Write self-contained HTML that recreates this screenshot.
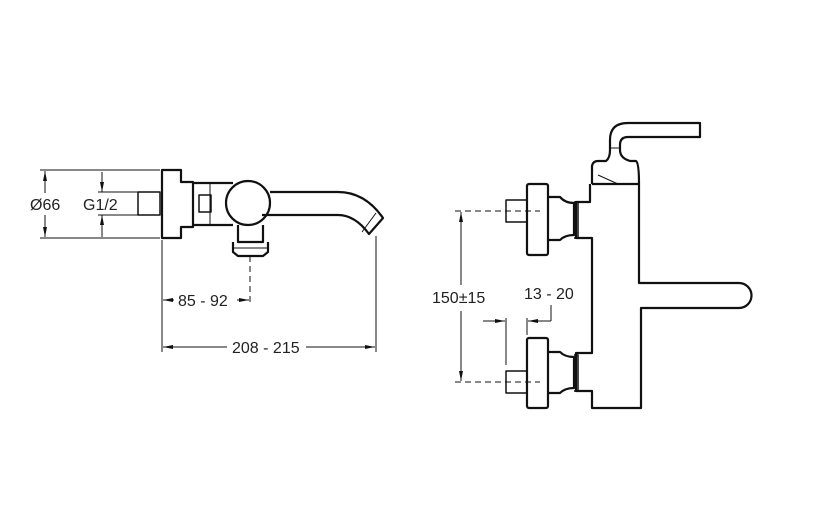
<!DOCTYPE html>
<html><head><meta charset="utf-8"><style>
html,body{margin:0;padding:0;background:#fff;}
svg{display:block;}
text{font-family:"Liberation Sans",sans-serif;font-size:16px;fill:#222;}
</style></head><body>
<svg width="819" height="506" viewBox="0 0 819 506" xmlns="http://www.w3.org/2000/svg">
<defs>
<marker id="a" viewBox="0 0 10 6" refX="10" refY="3" markerWidth="10" markerHeight="6" orient="auto-start-reverse" markerUnits="userSpaceOnUse"><path d="M0,1 L10,3 L0,5 z" fill="#111"/></marker>
</defs>
<g fill="none" stroke="#111">
<g stroke-width="1">
<line x1="40" y1="170" x2="160" y2="170"/>
<line x1="40" y1="238" x2="160" y2="238"/>
<line x1="45" y1="171" x2="45" y2="193" marker-start="url(#a)"/>
<line x1="45" y1="215" x2="45" y2="237" marker-end="url(#a)"/>
<line x1="98" y1="192" x2="140" y2="192"/>
<line x1="98" y1="215" x2="140" y2="215"/>
<line x1="102" y1="172" x2="102" y2="192" marker-end="url(#a)"/>
<line x1="102" y1="237" x2="102" y2="215" marker-end="url(#a)"/>
<line x1="162" y1="240" x2="162" y2="352"/>
<line x1="376" y1="236" x2="376" y2="352"/>
<line x1="250" y1="256" x2="250" y2="305" stroke-dasharray="6,4"/>
<line x1="174" y1="300" x2="163" y2="300" marker-end="url(#a)"/>
<line x1="237" y1="300" x2="249" y2="300" marker-end="url(#a)"/>
<line x1="227" y1="347" x2="163" y2="347" marker-end="url(#a)"/>
<line x1="306" y1="347" x2="375" y2="347" marker-end="url(#a)"/>
</g>
<g stroke-width="2.2" stroke-linejoin="round">
<rect x="138" y="192" width="22" height="23" stroke-width="1.5"/>
<path d="M162,170 H181 V182 H193 V227 H181 V238 H162 Z"/>
<path d="M193,183 H233 M193,225 H233"/>
<rect x="199" y="195" width="12" height="17" stroke-width="1.5"/>
<line x1="210" y1="183" x2="210" y2="225" stroke-width="1"/>
<circle cx="248" cy="203" r="22"/>
<path d="M270,192 H338 Q365,192 383,218 L369,234 Q355,215 338,215 H262"/>
<line x1="362" y1="232" x2="376" y2="213" stroke-width="1"/>
<path d="M238,225 V242 H263 V225"/>
<path d="M233,242 V252 L238,256 H263 L268,252 V242"/>
<line x1="233" y1="248" x2="268" y2="248" stroke-width="1"/>
</g>
<g stroke-width="1">
<line x1="455" y1="211" x2="540" y2="211" stroke-dasharray="6,4"/>
<line x1="455" y1="382" x2="540" y2="382" stroke-dasharray="6,4"/>
<line x1="461" y1="285" x2="461" y2="212" marker-end="url(#a)"/>
<line x1="461" y1="311" x2="461" y2="381" marker-end="url(#a)"/>
<line x1="506" y1="318" x2="506" y2="365"/>
<line x1="527" y1="318" x2="527" y2="335"/>
<line x1="483" y1="321" x2="505" y2="321" marker-end="url(#a)"/>
<line x1="551" y1="321" x2="528" y2="321" marker-end="url(#a)"/>
<line x1="551" y1="305" x2="551" y2="321"/>
</g>
<g stroke-width="2.2" stroke-linejoin="round">
<path d="M592,184 H639 V283 H739 A12.5,12.5 0 0 1 739,308 H641 V408 H592 V391 H576 V353 H592 V238 H576 V202 H590 V184"/>
<path d="M592,184 V166 Q593,161 598,161 H606 Q610,158 610,150 V140 Q610,123 628,123 H700 V137 H628 Q620,137 620,145 V150 Q620,158 630,161 H636 Q639,163 639,184"/>
<line x1="598" y1="175" x2="618" y2="184" stroke-width="1"/>
<line x1="609" y1="148" x2="621" y2="148" stroke-width="1"/>
<rect x="506" y="200" width="21" height="22" stroke-width="1.5"/>
<rect x="527" y="184" width="21" height="71" rx="2"/>
<path d="M548,197 H560 Q565,203 574,203 V235 Q565,235 560,240 H548"/>
<path d="M574,202 H578 V238 H574" stroke-width="1.5"/>
<rect x="506" y="371" width="21" height="22" stroke-width="1.5"/>
<rect x="527" y="338" width="21" height="70" rx="2"/>
<path d="M548,352 H560 Q565,357 574,357 V388 Q565,388 560,393 H548"/>
<path d="M574,355 H578 V391 H574" stroke-width="1.5"/>
</g>
</g>
<text x="30" y="210">Ø66</text>
<text x="83" y="210">G1/2</text>
<text x="178" y="306">85 - 92</text>
<text x="232" y="353">208 - 215</text>
<text x="432" y="303">150±15</text>
<text x="524" y="299">13 - 20</text>
</svg>
</body></html>
